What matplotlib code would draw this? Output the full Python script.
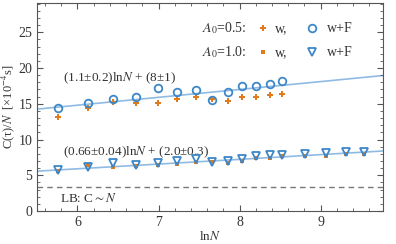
import numpy as np
import matplotlib
matplotlib.use("Agg")
import matplotlib.pyplot as plt
from matplotlib.ticker import MultipleLocator

plt.rcParams['font.family'] = ['Liberation Serif', 'DejaVu Serif']
plt.rcParams['mathtext.fontset'] = 'stix'

# A0 = 0.5
lnN_a = [5.763, 6.133, 6.442, 6.722, 6.990, 7.228, 7.459, 7.657, 7.854, 8.035, 8.207, 8.373, 8.521]
w_a = [13.2, 14.4, 15.2, 15.15, 15.05, 15.65, 15.9, 15.6, 15.45, 16.0, 15.95, 16.25, 16.3]
wF_a = [14.35, 15.15, 15.7, 15.9, 17.25, 16.6, 16.9, 15.5, 16.65, 17.45, 17.55, 17.8, 18.15]

# A0 = 1.0
lnN_b = [5.763, 6.133, 6.442, 6.722, 6.990, 7.228, 7.459, 7.657, 7.854, 8.035, 8.207,
         8.373, 8.521, 8.81, 9.068, 9.31, 9.537]
w_b = [5.6, 6.4, 6.2, 6.3, 6.45, 6.6, 6.9, 6.8, 6.75, 7.05, 7.35, 7.45, 7.65, 7.65, 7.75, 7.95, 7.95]
wF_b = [5.7, 6.1, 6.7, 6.4, 6.65, 6.95, 7.25, 6.85, 7.05, 7.3, 7.75, 7.8, 7.9, 7.95, 8.05, 8.25, 8.2]

# fits: slope, intercept
fit_a = (1.1, 8.2)
fit_b = (0.66, 1.95)
lower_bound = 3.35

blue = '#3c87c9'
orange = '#e07a1c'
fitcol = '#8fbbe3'

fig = plt.figure(figsize=(3.96, 2.44), dpi=100)
ax = fig.add_axes([0.0934, 0.135, 0.8736, 0.853])

xs = np.array([5.5, 9.77])
ax.plot(xs, fit_a[0] * xs + fit_a[1], color=fitcol, lw=1.2, zorder=1)
ax.plot(xs, fit_b[0] * xs + fit_b[1], color=fitcol, lw=1.2, zorder=1)
ax.axhline(lower_bound, color='#777777', ls=(0, (4, 3)), lw=1.0, zorder=1)

ax.plot(lnN_a, w_a, 'P', color=orange, ms=4, mew=0, ls='none', zorder=3)
ax.plot(lnN_a, wF_a, 'o', mfc='none', mec=blue, ms=5.5, mew=1.3, ls='none', zorder=4)
ax.plot(lnN_b, w_b, 's', color=orange, ms=3.2, mew=0, ls='none', zorder=3)
ax.plot(lnN_b, wF_b, 'v', mfc='none', mec=blue, ms=5.5, mew=1.3, ls='none', zorder=4)

ax.set_xlim(5.5, 9.77)
ax.set_ylim(0, 29.1)
ax.xaxis.set_major_locator(MultipleLocator(1))
ax.xaxis.set_minor_locator(MultipleLocator(0.2))
ax.yaxis.set_major_locator(MultipleLocator(5))
ax.yaxis.set_minor_locator(MultipleLocator(1))
ax.tick_params(which='both', direction='in', top=True, right=True, colors='#555555',
               labelcolor='#333333', labelsize=10)
ax.tick_params(which='major', length=4)
ax.tick_params(which='minor', length=2)
for s in ax.spines.values():
    s.set_color('#555555')

ax.set_xlabel(r'ln$N$', fontsize=9.5, color='#333333', labelpad=1)
ax.set_ylabel(r'C(τ)/$N$  [×10$^{-4}$s]', fontsize=9, color='#333333', labelpad=1)

tc = '#333333'
ax.text(5.82, 18.2, r'(1.1±0.2)ln$N$ + (8±1)', fontsize=9.5, color=tc)
ax.text(5.82, 7.8, r'(0.66±0.04)ln$N$ + (2.0±0.3)', fontsize=9.5, color=tc)
ax.text(5.78, 1.3, r'LB: C$\sim$$N$', fontsize=9.5, color=tc)

# legend as text rows
ax.text(7.54, 25.0, r'$A_0$=0.5:', fontsize=10, color=tc)
ax.text(7.54, 21.7, r'$A_0$=1.0:', fontsize=10, color=tc)
ax.plot([8.29], [25.6], 'P', color=orange, ms=4, mew=0)
ax.plot([8.29], [22.3], 's', color=orange, ms=3.2, mew=0)
ax.text(8.44, 25.0, 'w,', fontsize=10, color=tc)
ax.text(8.44, 21.7, 'w,', fontsize=10, color=tc)
ax.plot([8.89], [25.6], 'o', mfc='none', mec=blue, ms=5.5, mew=1.3)
ax.plot([8.89], [22.3], 'v', mfc='none', mec=blue, ms=5.5, mew=1.3)
ax.text(9.08, 25.0, 'w+F', fontsize=10, color=tc)
ax.text(9.08, 21.7, 'w+F', fontsize=10, color=tc)

fig.savefig('out.png', dpi=100)
